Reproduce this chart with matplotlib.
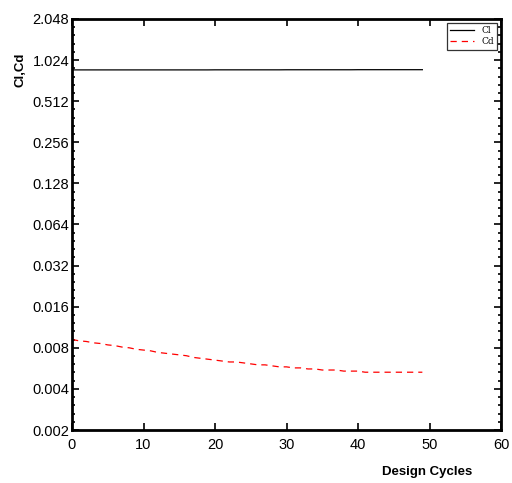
import numpy as np
import matplotlib
matplotlib.use('Agg')
from matplotlib import pyplot as plt
from matplotlib.ticker import FixedLocator, FixedFormatter, NullFormatter

cycles = list(range(50))
cl = [0.868, 0.868, 0.868, 0.868, 0.868, 0.868, 0.868, 0.868, 0.868, 0.868,
      0.868, 0.868, 0.868, 0.868, 0.868, 0.868, 0.868, 0.868, 0.868, 0.868,
      0.869, 0.869, 0.869, 0.869, 0.869, 0.869, 0.869, 0.869, 0.869, 0.869,
      0.870, 0.870, 0.870, 0.870, 0.870, 0.870, 0.870, 0.870, 0.870, 0.870,
      0.871, 0.871, 0.871, 0.871, 0.871, 0.871, 0.871, 0.871, 0.871, 0.871]
cd = [0.0092, 0.0090, 0.0089, 0.0087, 0.0086, 0.0084, 0.0083, 0.0081, 0.0080, 0.0078,
      0.0077, 0.0076, 0.0074, 0.0073, 0.0072, 0.0071, 0.0070, 0.0068, 0.0067, 0.0066,
      0.0065, 0.0064, 0.0063, 0.0063, 0.0062, 0.0061, 0.0060, 0.0060, 0.0059, 0.0058,
      0.0058, 0.0057, 0.0057, 0.0056, 0.0056, 0.0055, 0.0055, 0.0055, 0.0054, 0.0054,
      0.0054, 0.0053, 0.0053, 0.0053, 0.0053, 0.0053, 0.0053, 0.0053, 0.0053, 0.0053]
yticks = [0.002, 0.004, 0.008, 0.016, 0.032, 0.064, 0.128, 0.256, 0.512, 1.024, 2.048]
ylabels = ['0.002', '0.004', '0.008', '0.016', '0.032', '0.064', '0.128', '0.256', '0.512', '1.024', '2.048']
xticks = [0, 10, 20, 30, 40, 50, 60]

plt.rcParams['font.family'] = ['Liberation Sans', 'DejaVu Sans']

fig = plt.figure(figsize=(5.12, 4.83), dpi=100)
ax = fig.add_axes([72/512, 53/483, 429/512, 411/483])

ax.plot(cycles, cl, color='black', lw=0.9, label='Cl')
ax.plot(cycles, cd, color='red', lw=0.9, ls=(0, (5, 4)), label='Cd')

ax.set_yscale('log', base=2)
ax.set_ylim(0.002, 2.048)
ax.set_xlim(0, 60)
ax.yaxis.set_major_locator(FixedLocator(yticks))
ax.yaxis.set_major_formatter(FixedFormatter(ylabels))
minors = [t * 2 ** (k / 5) for t in yticks[:-1] for k in range(1, 5)]
ax.yaxis.set_minor_locator(FixedLocator(minors))
ax.yaxis.set_minor_formatter(NullFormatter())
ax.set_xticks(xticks)

ax.tick_params(which='major', direction='in', length=5, width=1.2,
               top=True, right=True, labelsize=10.5, pad=2)
ax.tick_params(axis='x', which='major', pad=6)
ax.tick_params(which='minor', direction='in', length=2.5, width=1.2,
               left=True, right=True)
for s in ax.spines.values():
    s.set_linewidth(2)

ax.text(0.828, -0.102, 'Design Cycles', transform=ax.transAxes, fontsize=9.5,
        fontweight='bold', ha='center', va='center')
ax.text(-0.121, 0.876, 'Cl,Cd', transform=ax.transAxes, fontsize=9.5,
        fontweight='bold', ha='center', va='center', rotation=90)

leg = ax.legend(loc='upper right', prop={'family': 'DejaVu Serif', 'size': 6.5},
                frameon=True, fancybox=False, edgecolor='black',
                handlelength=2.6, borderpad=0.35, labelspacing=0.25,
                borderaxespad=0.45, handletextpad=0.8)
leg.get_frame().set_linewidth(0.9)

fig.savefig('out.png', dpi=100)
